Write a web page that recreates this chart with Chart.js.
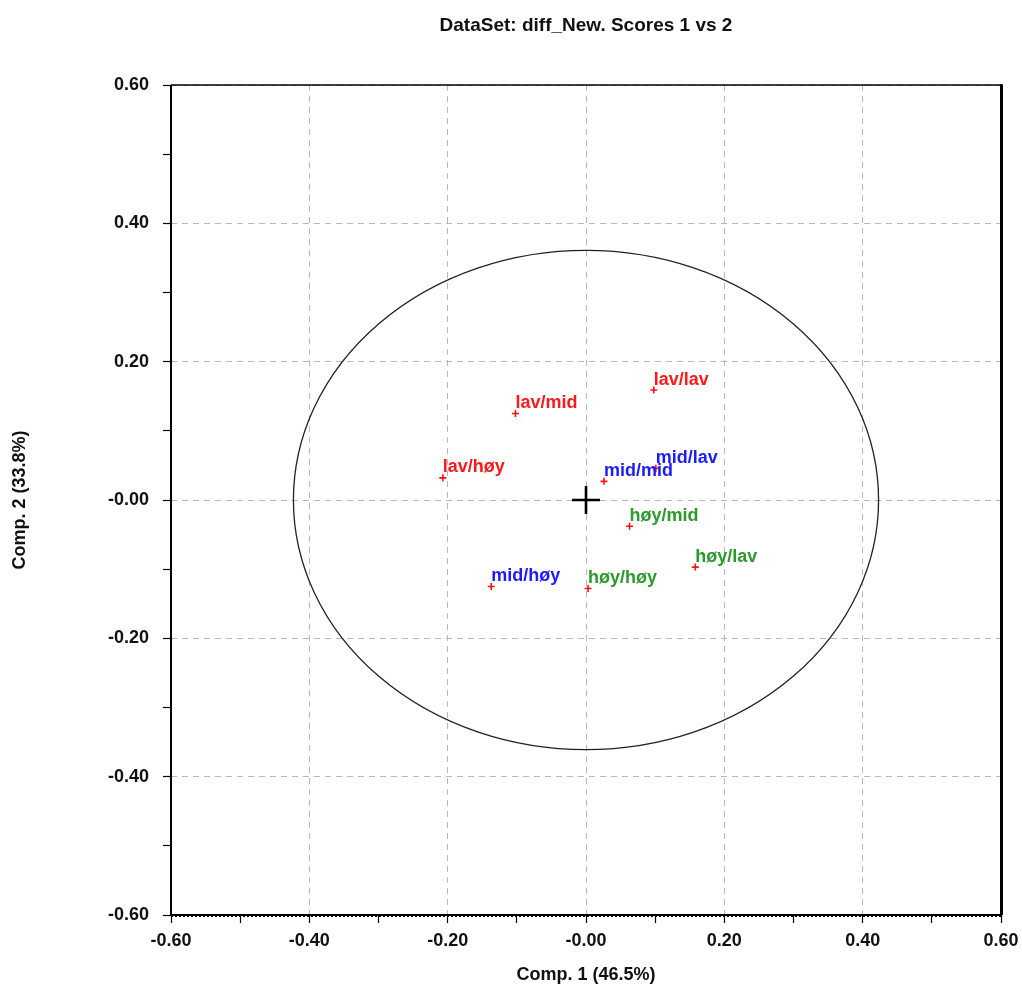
<!DOCTYPE html>
<html>
<head>
<meta charset="utf-8">
<title>Scores 1 vs 2</title>
<script src="https://cdn.jsdelivr.net/npm/chart.js@4/dist/chart.umd.min.js"></script>
<style>
    html, body { margin: 0; padding: 0; background: #ffffff; }
    .chart-wrap { width: 1022px; height: 987px; }
</style>
</head>
<body>
<div class="chart-wrap">
    <canvas id="scoresChart" width="1022" height="987"></canvas>
</div>
<script>
'use strict';

// =========================================================
// DATA
// =========================================================

const TITLE = 'DataSet: diff_New. Scores 1 vs 2';
const X_TITLE = 'Comp. 1 (46.5%)';
const Y_TITLE = 'Comp. 2 (33.8%)';

const tickLabels = ['-0.60', '-0.40', '-0.20', '-0.00', '0.20', '0.40', '0.60'];

const lavNames = ['lav/lav', 'lav/mid', 'lav/høy'];
const lavX = [0.098, -0.102, -0.207];
const lavY = [0.159, 0.125, 0.032];

const midNames = ['mid/lav', 'mid/mid', 'mid/høy'];
const midX = [0.101, 0.026, -0.137];
const midY = [0.046, 0.027, -0.125];

const hoyNames = ['høy/lav', 'høy/mid', 'høy/høy'];
const hoyX = [0.158, 0.063, 0.003];
const hoyY = [-0.097, -0.038, -0.128];

// Hotelling ellipse radii (in score units)
const ellipseRadiusX = 0.423;
const ellipseRadiusY = 0.361;


// =========================================================
// HELPERS
// =========================================================

const FONT = '"Liberation Sans", Arial, sans-serif';

const toPoints = (xs, ys) => xs.map((x, index) => ({ x: x, y: ys[index] }));

const isMajor = (value) => Math.round(value * 10) % 2 === 0;

const tickText = (value) => {
    if (!isMajor(value)) return '';
    return tickLabels[Math.round((value + 0.6) / 0.2)];
};

const makeSeries = (label, names, xs, ys, color) => ({
    label: label,
    names: names,
    textColor: color,
    data: toPoints(xs, ys),
    pointStyle: 'cross',
    pointRadius: 3.5,
    pointBorderWidth: 1.6,
    borderColor: '#ff1010',
    backgroundColor: '#ff1010',
    showLine: false,
});


// =========================================================
// PLUGINS
// =========================================================

const ellipsePlugin = {
    id: 'ellipse',
    beforeDatasetsDraw: (chart) => {
        const { ctx, scales } = chart;
        const cx = scales.x.getPixelForValue(0);
        const cy = scales.y.getPixelForValue(0);
        const rx = scales.x.getPixelForValue(ellipseRadiusX) - cx;
        const ry = cy - scales.y.getPixelForValue(ellipseRadiusY);

        ctx.save();
        ctx.strokeStyle = '#222222';
        ctx.lineWidth = 1.3;
        ctx.beginPath();
        ctx.ellipse(cx, cy, rx, ry, 0, 0, Math.PI * 2);
        ctx.stroke();
        ctx.restore();
    },
};

const pointLabelPlugin = {
    id: 'pointLabels',
    afterDatasetsDraw: (chart) => {
        const { ctx } = chart;

        ctx.save();
        ctx.font = `bold 18px ${FONT}`;
        ctx.textAlign = 'left';
        ctx.textBaseline = 'alphabetic';

        chart.data.datasets.forEach((dataset, datasetIndex) => {
            if (!dataset.names) return;

            const meta = chart.getDatasetMeta(datasetIndex);

            meta.data.forEach((element, index) => {
                ctx.fillStyle = dataset.textColor;
                ctx.fillText(dataset.names[index], element.x, element.y - 5.5);
            });
        });

        ctx.restore();
    },
};

const framePlugin = {
    id: 'frame',
    afterDraw: (chart) => {
        const { ctx, chartArea } = chart;
        const { left, right, top, bottom } = chartArea;

        ctx.save();
        ctx.strokeStyle = '#000000';

        // top
        ctx.lineWidth = 1.5;
        ctx.beginPath();
        ctx.moveTo(left, top);
        ctx.lineTo(right, top);
        ctx.stroke();

        // left
        ctx.lineWidth = 2;
        ctx.beginPath();
        ctx.moveTo(left, top);
        ctx.lineTo(left, bottom);
        ctx.stroke();

        // right, heavier like the reference
        ctx.lineWidth = 3;
        ctx.beginPath();
        ctx.moveTo(right + 0.5, top - 0.75);
        ctx.lineTo(right + 0.5, bottom);
        ctx.stroke();

        // bottom, solid with a dotted line under it
        ctx.lineWidth = 2;
        ctx.beginPath();
        ctx.moveTo(left, bottom);
        ctx.lineTo(right, bottom);
        ctx.stroke();

        ctx.lineWidth = 1;
        ctx.setLineDash([2, 2]);
        ctx.beginPath();
        ctx.moveTo(left, bottom + 1.5);
        ctx.lineTo(right, bottom + 1.5);
        ctx.stroke();

        ctx.restore();
    },
};


// =========================================================
// AXES
// =========================================================

const makeAxis = (position, title, titlePadding) => ({
    type: 'linear',
    position: position,
    min: -0.6,
    max: 0.6,
    afterBuildTicks: (scale) => {
        const values = [];
        for (let step = -6; step <= 6; step++) {
            values.push({ value: step / 10 });
        }
        scale.ticks = values;
    },
    ticks: {
        autoSkip: false,
        maxRotation: 0,
        padding: position === 'left' ? 14 : 7,
        color: '#111111',
        font: { family: FONT, size: 18, weight: 'bold' },
        callback: (value) => tickText(value),
    },
    grid: {
        color: (context) => (isMajor(context.tick.value) ? '#b8b8b8' : 'rgba(0,0,0,0)'),
        lineWidth: 1,
        tickColor: '#000000',
        tickLength: 8,
        tickWidth: 1.2,
        tickBorderDash: [],
    },
    border: {
        display: false,
        dash: [6, 5],
    },
    title: {
        display: true,
        text: title,
        color: '#111111',
        font: { family: FONT, size: 18, weight: 'bold' },
        padding: titlePadding,
    },
    afterFit: (scale) => {
        if (position === 'left') {
            scale.width = 171;
            scale.paddingTop = 0;
            scale.paddingBottom = 0;
        } else {
            scale.height = 72;
            // let the layout padding decide the plot edges
            scale.paddingLeft = 0;
            scale.paddingRight = 0;
        }
    },
});


// =========================================================
// CHART
// =========================================================

const renderChart = () => {
    const canvas = document.querySelector('#scoresChart');

    new Chart(canvas, {
        type: 'scatter',
        data: {
            datasets: [
                makeSeries('lav', lavNames, lavX, lavY, '#ff1a1a'),
                makeSeries('mid', midNames, midX, midY, '#1c1cff'),
                makeSeries('høy', hoyNames, hoyX, hoyY, '#2c9a2c'),
                {
                    label: 'centre',
                    data: [{ x: 0, y: 0 }],
                    pointStyle: 'cross',
                    pointRadius: 14,
                    pointBorderWidth: 2.6,
                    borderColor: '#000000',
                    backgroundColor: '#000000',
                },
            ],
        },
        options: {
            responsive: false,
            animation: false,
            events: [],
            layout: {
                padding: { left: 0, right: 21, top: 0, bottom: 0 },
            },
            plugins: {
                legend: { display: false },
                tooltip: { enabled: false },
                title: {
                    display: true,
                    fullSize: false,
                    text: TITLE,
                    color: '#111111',
                    font: { family: FONT, size: 19, weight: 'bold' },
                    padding: { top: 14, bottom: 48.2 },
                },
            },
            scales: {
                x: makeAxis('bottom', X_TITLE, { top: 0, bottom: 1.2 }),
                y: makeAxis('left', Y_TITLE, { top: 9.2, bottom: 0 }),
            },
        },
        plugins: [ellipsePlugin, pointLabelPlugin, framePlugin],
    });
};

document.addEventListener('DOMContentLoaded', renderChart);
</script>
</body>
</html>
